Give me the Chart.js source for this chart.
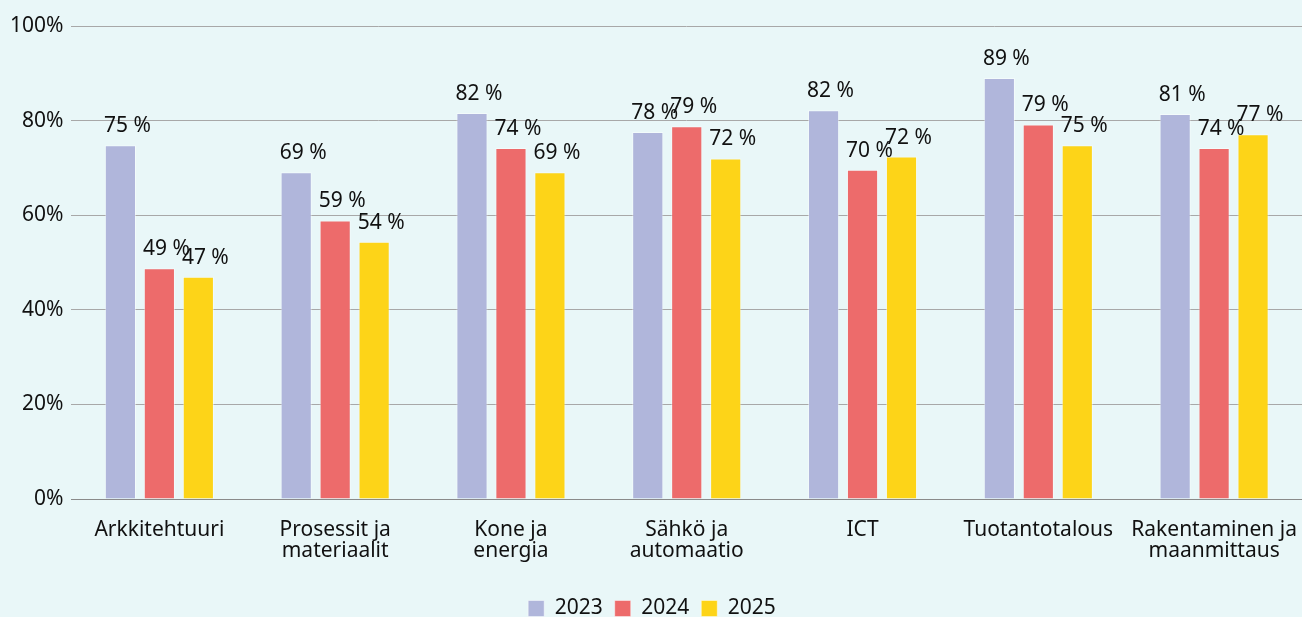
<!DOCTYPE html>
<html>
<head>
<meta charset="utf-8">
<script src="https://cdn.jsdelivr.net/npm/chart.js@4/dist/chart.umd.min.js"></script>
<style>
  html, body { margin: 0; padding: 0; background: #e9f7f8; }
  #wrap { width: 1302px; height: 617px; }
</style>
</head>
<body>
<div id="wrap"><canvas id="chart"></canvas></div>
<script>
const categories = [
  "Arkkitehtuuri",
  ["Prosessit ja", "materiaalit"],
  ["Kone ja", "energia"],
  ["Sähkö ja", "automaatio"],
  "ICT",
  "Tuotantotalous",
  ["Rakentaminen ja", "maanmittaus"]
];
const years = ["2023", "2024", "2025"];
const values2023 = [74.8, 69.1, 81.6, 77.6, 82.2, 89.0, 81.4];
const values2024 = [48.8, 58.9, 74.2, 78.8, 69.6, 79.2, 74.2];
const values2025 = [47.0, 54.4, 69.1, 72.0, 72.4, 74.8, 77.1];
const colors = ["#b0b6db", "#ed6b6b", "#fdd418"];

// value labels above each bar
const valueLabels = {
  id: "valueLabels",
  afterDatasetsDraw(chart) {
    const ctx = chart.ctx;
    ctx.save();
    ctx.font = "21px 'Noto Sans'";
    ctx.fillStyle = "#111";
    ctx.textAlign = "center";
    ctx.textBaseline = "alphabetic";
    chart.data.datasets.forEach((ds, i) => {
      chart.getDatasetMeta(i).data.forEach((bar, j) => {
        ctx.fillText(Math.round(ds.data[j]) + " %", bar.x + 7, bar.y - 13);
      });
    });
    ctx.restore();
  }
};

const font = { family: "'Noto Sans'", size: 21, lineHeight: 1.0 };

new Chart(document.getElementById("chart"), {
  type: "bar",
  data: {
    labels: categories,
    datasets: [values2023, values2024, values2025].map((d, i) => ({
      label: years[i],
      data: d,
      backgroundColor: colors[i],
      borderColor: "rgba(255,255,255,0.45)",
      borderWidth: 1,
      barPercentage: 0.8,
      categoryPercentage: 0.665
    }))
  },
  options: {
    responsive: true,
    maintainAspectRatio: false,
    animation: false,
    layout: { padding: { top: 26, left: 2, right: 0, bottom: -12 } },
    plugins: {
      legend: {
        position: "bottom",
        labels: { font: font, color: "#111", boxWidth: 16, boxHeight: 16, padding: 12 }
      },
      tooltip: { enabled: false }
    },
    scales: {
      x: {
        grid: { display: false },
        border: { color: "#8a8a8a" },
        ticks: { font: font, color: "#111", padding: 13, maxRotation: 0 },
        afterFit: (scale) => { scale.height += 11; scale.paddingRight = 0; scale.paddingLeft = 0; }
      },
      y: {
        min: 0,
        max: 100,
        grid: { color: "#a8a8a8", drawTicks: false },
        border: { display: false },
        ticks: { stepSize: 20, font: font, color: "#111", padding: 8, callback: v => v + "%" }
      }
    }
  },
  plugins: [valueLabels]
});
</script>
</body>
</html>
